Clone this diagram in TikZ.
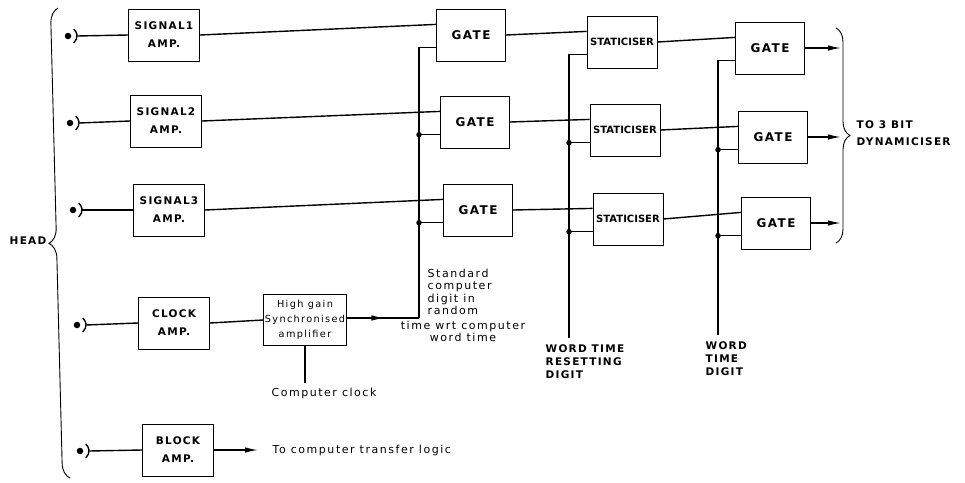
\documentclass[tikz,border=0pt]{standalone}
\usepackage{fontspec}
\usepackage{tikz}
\usetikzlibrary{arrows.meta,positioning,calc,decorations.pathreplacing,decorations.markings}
\newfontfamily\capsfont{DejaVu Sans}[LetterSpace=12]
\newfontfamily\handfont{DejaVu Sans}[LetterSpace=14]
\newfontfamily\plainfont{DejaVu Sans}

\begin{document}
\begin{tikzpicture}[
  x=1pt,y=-1pt,
  line width=1.4pt,
  box/.style={draw,line width=1pt,minimum width=70pt,minimum height=52pt,inner sep=1pt,align=center},
  amp/.style={box,minimum width=71pt,font=\capsfont\bfseries\fontsize{10.5}{18}\selectfont},
  gate/.style={box,minimum width=69pt,font=\capsfont\bfseries\fontsize{12}{14}\selectfont},
  stat/.style={box,font=\plainfont\bfseries\fontsize{10}{12}\selectfont},
  synbox/.style={box,minimum width=83pt,minimum height=51pt,inner sep=0pt,font=\handfont\fontsize{9.7}{15}\selectfont},
  capslbl/.style={align=left,inner sep=0pt,font=\capsfont\bfseries\fontsize{10.5}{12.8}\selectfont},
  handlbl/.style={align=left,inner sep=0pt,font=\handfont\fontsize{11}{12.6}\selectfont},
  jack/.style={circle,fill,inner sep=0pt,minimum size=6.5pt},
  junction/.style={circle,fill,inner sep=0pt,minimum size=5.5pt},
  arrow/.style={-{Latex[length=13pt,width=5.5pt]}},
  midarrow/.style={postaction={decorate},decoration={markings,mark=at position #1 with {\arrow{Latex[length=13pt,width=5.5pt]}}}},
  bracket/.style={decorate,line width=0.9pt,decoration={brace,amplitude=#1}}
]
\useasboundingbox (0,0) rectangle (965,482);

% head pick-ups
\foreach \n/\x/\y in {1/68/36,2/70/123,3/73/210,4/77/325,5/80/451} {
  \node[jack] (h\n) at (\x,\y) {};
  \draw ($(h\n)+(50:9)$) arc[start angle=50,end angle=-50,radius=9];
  \coordinate (h\n-o) at ($(h\n)+(9,0)$);
}
\draw[bracket=15pt] (70,478) -- (58,8);
\coordinate (headtip) at (48,241);
\node[capslbl,left=1pt of headtip] (headlbl) {HEAD};

% amplifiers
\node[amp] (sig1) at (164,35) {SIGNAL1\\AMP.};
\node[amp] (sig2) at (166,121) {SIGNAL2\\AMP.};
\node[amp] (sig3) at (169,210) {SIGNAL3\\AMP.};
\node[amp] (clk) at (174,323) {CLOCK\\AMP.};
\node[amp] (blk) at (178,450) {BLOCK\\AMP.};
\node[synbox] (sync) at (305,320) {High gain\\Synchronised\\amplifier};

% gates and staticisers
\node[gate] (gA) at (471,35) {GATE};
\node[gate] (gB) at (475,122) {GATE};
\node[gate] (gC) at (478,210) {GATE};
\node[stat] (sA) at (622,42) {STATICISER};
\node[stat] (sB) at (625,130) {STATICISER};
\node[stat] (sC) at (628,219) {STATICISER};
\node[gate] (gD) at (770,48) {GATE};
\node[gate] (gE) at (773,137) {GATE};
\node[gate] (gF) at (776,223) {GATE};
\foreach \g in {gA,gB,gC,sA,sB,sC,gD,gE,gF} {
  \coordinate (\g-a) at ($(\g.north west)!0.3!(\g.south west)$);
  \coordinate (\g-b) at ($(\g.north west)!0.74!(\g.south west)$);
}

% free ends
\coordinate (busA) at (419,318);
\coordinate (busB) at (569,338);
\coordinate (busC) at (718,335);
\coordinate (cclk) at (305,383);
\coordinate (xfer) at (258,450);
\coordinate (dyn) at (841,0);

% connectors
\foreach \n/\a in {1/sig1,2/sig2,3/sig3,4/clk,5/blk}
  \draw (h\n-o) -- (\a.west);
\draw (sig1.east) -- (gA-a);
\draw (sig2.east) -- (gB-a);
\draw (sig3.east) -- (gC-a);
\draw (clk.east) -- (sync.west);
\draw (sync.south) -- (cclk);
\draw[arrow] (blk.east) -- (xfer);
\draw[midarrow=0.52] (sync.east |- busA) -- (busA);
\draw (busA) -- (busA |- gA-b) -- (gA-b);
\draw (busA |- gB-b) node[junction] {} -- (gB-b);
\draw (busA |- gC-b) node[junction] {} -- (gC-b);
\draw (gA.east) -- (sA-a);
\draw (gB.east) -- (sB-a);
\draw (gC.east) -- (sC-a);
\draw (busB) -- (busB |- sA-b) -- (sA-b);
\draw (busB |- sB-b) node[junction] {} -- (sB-b);
\draw (busB |- sC-b) node[junction] {} -- (sC-b);
\draw (sA.east) -- (gD-a);
\draw (sB.east) -- (gE-a);
\draw (sC.east) -- (gF-a);
\draw (busC) -- (busC |- gD-b) -- (gD-b);
\draw (busC |- gE-b) node[junction] {} -- (gE-b);
\draw (busC |- gF-b) node[junction] {} -- (gF-b);
\draw[arrow] (gD.east) -- (gD.east -| dyn);
\draw[arrow] (gE.east) -- (gE.east -| dyn);
\draw[arrow] (gF.east) -- (gF.east -| dyn);
\draw[bracket=14pt] (836,28) -- (836,243);

% labels
\node[handlbl,below=4pt of cclk,xshift=19pt] (clklbl) {Computer clock};
\node[handlbl,right=14pt of xfer] (xferlbl) {To computer transfer logic};
\node[handlbl,anchor=north west] (std) at (427,268) {Standard\\computer\\digit in\\random};
\node[handlbl,align=center,anchor=north] (wrt) at (463,320) {time wrt computer\\word time};
\node[capslbl,anchor=north west] (wtr) at ($(busB)+(-24,6)$) {WORD TIME\\RESETTING\\DIGIT};
\node[capslbl,anchor=north west] (wtd) at ($(busC)+(-13,6)$) {WORD\\TIME\\DIGIT};
\node[capslbl,anchor=west,font=\capsfont\bfseries\fontsize{10.5}{17}\selectfont] (dynlbl) at (856,133) {TO 3 BIT\\DYNAMICISER};
\end{tikzpicture}
\end{document}
